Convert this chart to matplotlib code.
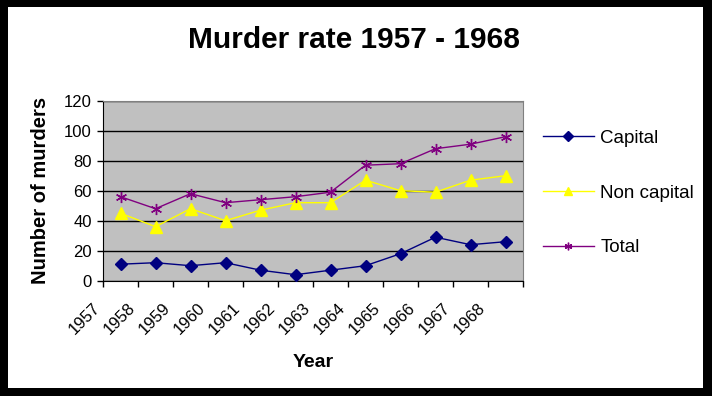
import numpy as np
import matplotlib
matplotlib.use("Agg")
import matplotlib.pyplot as plt
from matplotlib.patches import Rectangle
from matplotlib.transforms import ScaledTranslation

years = ["1957", "1958", "1959", "1960", "1961", "1962",
         "1963", "1964", "1965", "1966", "1967", "1968"]
capital = [11, 12, 10, 12, 7, 4, 7, 10, 18, 29, 24, 26]
non_capital = [45, 36, 48, 40, 47, 52, 52, 67, 60, 59, 67, 70]
total = [56, 48, 58, 52, 54, 56, 59, 77, 78, 88, 91, 96]

plt.rcParams['font.family'] = ['Liberation Sans', 'DejaVu Sans']

W, H = 712, 396
fig = plt.figure(figsize=(W / 100, H / 100), dpi=100, facecolor='black')
# white inner area, leaves the black frame around the picture
fig.patches.append(Rectangle((8 / W, 8 / H), (703 - 8) / W, (388 - 7) / H,
                             transform=fig.transFigure, facecolor='white',
                             edgecolor='none', zorder=-5))

ax = fig.add_axes([103 / W, 1 - 280.7 / H, (523 - 103) / W, (280.7 - 100.7) / H])
ax.set_zorder(2)
ax.set_facecolor('#C0C0C0')

x = np.arange(len(years))
ax.plot(x, capital, color='#000080', lw=1, marker='D', ms=6, label='Capital', zorder=3)
ax.plot(x, non_capital, color='#FFFF00', lw=1, marker='^', ms=8, label='Non capital', zorder=3)
ax.plot(x, total, color='#800080', lw=1, marker=(6, 2, 0), ms=8, mew=1, label='Total', zorder=3)

ax.set_xlim(-0.5, len(years) - 0.5)
ax.set_ylim(0, 120)
ax.set_yticks(range(0, 121, 20))
ax.yaxis.grid(True, color='black', lw=1)
ax.set_axisbelow(True)
ax.set_xticks(np.arange(len(years) + 1) - 0.5)
ax.set_xticklabels(years + [''], rotation=45, ha='right', va='top')
off = ScaledTranslation(3 / 72, 0, fig.dpi_scale_trans)
for lab in ax.get_xticklabels():
    lab.set_transform(lab.get_transform() + off)

ax.tick_params(axis='both', direction='out', length=4, width=1, colors='black',
               labelsize=12)
ax.tick_params(axis='x', pad=10)
ax.tick_params(axis='y', pad=4)
for s in ['top', 'right']:
    ax.spines[s].set_color('#808080')
for s in ['left', 'bottom']:
    ax.spines[s].set_color('black')

ax.set_xlabel('Year', fontsize=14, fontweight='bold', labelpad=12)
ax.set_ylabel('Number of murders', fontsize=14.5, fontweight='bold', labelpad=10)

fig.text(354 / W, 1 - 40 / H, 'Murder rate 1957 - 1968', ha='center', va='center',
         fontsize=21.5, fontweight='bold')

leg = fig.legend(loc='center left', bbox_to_anchor=(543 / W, 1 - 193 / H),
                 frameon=False, fontsize=13.5, labelspacing=2.0, handlelength=2.7,
                 handletextpad=0.35, borderpad=0, borderaxespad=0)
for h in leg.legend_handles:
    h.set_markersize(5.5)

fig.savefig('out.png', dpi=100, facecolor='black')
